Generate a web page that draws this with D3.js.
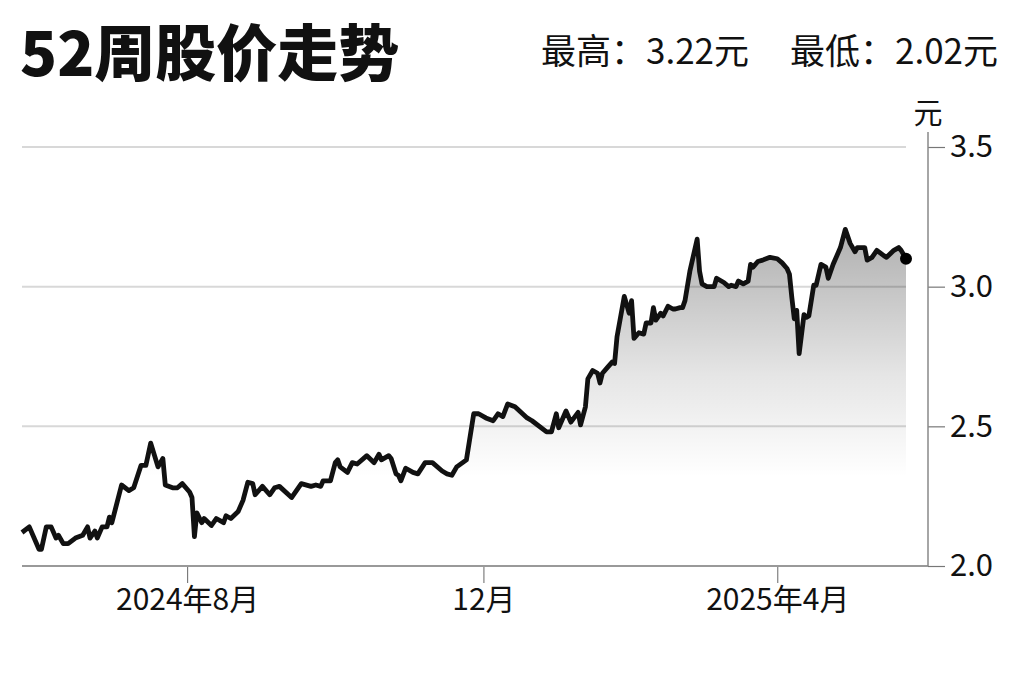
<!DOCTYPE html>
<html>
<head>
<meta charset="utf-8">
<script src="https://cdn.jsdelivr.net/npm/d3@7"></script>
<style>
  html, body { margin:0; padding:0; background:#fff; }
  svg { display:block; font-family:"Noto Sans CJK SC","Noto Sans",sans-serif; }
</style>
</head>
<body>
<div id="chart"></div>
<script>
// 52-week daily closes
var dates = [
"2024-05-25","2024-05-28","2024-06-01","2024-06-02","2024-06-04","2024-06-06","2024-06-08","2024-06-09","2024-06-11","2024-06-13",
"2024-06-16","2024-06-19","2024-06-21","2024-06-22","2024-06-24","2024-06-25","2024-06-27","2024-06-29","2024-06-30","2024-07-01",
"2024-07-05","2024-07-08","2024-07-10","2024-07-13","2024-07-15","2024-07-17","2024-07-20","2024-07-22","2024-07-23","2024-07-26",
"2024-07-28","2024-07-30","2024-08-02","2024-08-03","2024-08-04","2024-08-05","2024-08-07","2024-08-08","2024-08-11","2024-08-13",
"2024-08-16","2024-08-17","2024-08-19","2024-08-22","2024-08-24","2024-08-26","2024-08-28","2024-08-29","2024-09-01","2024-09-04",
"2024-09-06","2024-09-08","2024-09-13","2024-09-17","2024-09-21","2024-09-23","2024-09-25","2024-09-26","2024-09-29","2024-10-01",
"2024-10-02","2024-10-03","2024-10-06","2024-10-08","2024-10-10","2024-10-14","2024-10-17","2024-10-19","2024-10-20","2024-10-23",
"2024-10-24","2024-10-26","2024-10-27","2024-10-28","2024-10-30","2024-11-02","2024-11-04","2024-11-07","2024-11-10","2024-11-14",
"2024-11-16","2024-11-18","2024-11-20","2024-11-24","2024-11-27","2024-11-29","2024-12-02","2024-12-05","2024-12-07","2024-12-09",
"2024-12-11","2024-12-14","2024-12-19","2024-12-21","2024-12-27","2024-12-29","2024-12-31","2025-01-01","2025-01-04","2025-01-06",
"2025-01-09","2025-01-10","2025-01-12","2025-01-13","2025-01-15","2025-01-17","2025-01-18","2025-01-19","2025-01-21","2025-01-23",
"2025-01-24","2025-01-25","2025-01-28","2025-01-30","2025-01-31","2025-02-01","2025-02-03","2025-02-05","2025-02-06","2025-02-08",
"2025-02-09","2025-02-10","2025-02-12","2025-02-13","2025-02-15","2025-02-17","2025-02-18","2025-02-20","2025-02-21","2025-02-22",
"2025-02-24","2025-02-27","2025-02-28","2025-03-01","2025-03-03","2025-03-06","2025-03-07","2025-03-10","2025-03-12","2025-03-13",
"2025-03-15","2025-03-16","2025-03-18","2025-03-20","2025-03-21","2025-03-22","2025-03-24","2025-03-26","2025-03-29","2025-04-01",
"2025-04-03","2025-04-05","2025-04-06","2025-04-07","2025-04-08","2025-04-09","2025-04-10","2025-04-12","2025-04-13","2025-04-14",
"2025-04-16","2025-04-17","2025-04-19","2025-04-21","2025-04-22","2025-04-24","2025-04-27","2025-04-29","2025-05-01","2025-05-03",
"2025-05-04","2025-05-07","2025-05-08","2025-05-10","2025-05-12","2025-05-15","2025-05-16","2025-05-19","2025-05-21","2025-05-22",
"2025-05-24"];

var prices = [
2.12,2.14,2.06,2.06,2.14,2.14,2.10,2.11,2.08,2.08,
2.10,2.11,2.14,2.10,2.125,2.10,2.14,2.14,2.175,2.155,
2.29,2.27,2.28,2.36,2.36,2.44,2.355,2.385,2.29,2.28,
2.28,2.295,2.265,2.245,2.105,2.19,2.155,2.17,2.145,2.17,
2.155,2.18,2.17,2.195,2.235,2.30,2.295,2.255,2.285,2.255,
2.28,2.285,2.245,2.295,2.285,2.29,2.285,2.305,2.305,2.37,
2.38,2.355,2.335,2.37,2.365,2.395,2.37,2.40,2.38,2.395,
2.385,2.33,2.325,2.305,2.35,2.335,2.33,2.37,2.37,2.34,
2.33,2.325,2.355,2.38,2.545,2.545,2.53,2.52,2.545,2.535,
2.58,2.57,2.53,2.52,2.48,2.48,2.545,2.495,2.555,2.515,
2.55,2.505,2.57,2.67,2.70,2.69,2.655,2.69,2.71,2.73,
2.725,2.82,2.965,2.905,2.95,2.815,2.835,2.83,2.87,2.87,
2.925,2.88,2.905,2.895,2.93,2.92,2.92,2.925,2.925,2.95,
3.055,3.17,3.055,3.01,3.00,3.00,3.03,3.015,3.00,3.005,
3.00,3.02,3.01,3.02,3.08,3.07,3.09,3.095,3.105,3.10,
3.085,3.065,3.045,2.96,2.885,2.915,2.76,2.90,2.89,2.895,
3.005,3.005,3.08,3.07,3.03,3.08,3.14,3.205,3.155,3.125,
3.14,3.14,3.095,3.105,3.13,3.11,3.105,3.13,3.14,3.13,
3.10];

var yTicks = [2.0, 2.5, 3.0, 3.5];
var xTickDates = ["2024-08-01","2024-12-01","2025-04-01"];
var xTickLabels = ["2024年8月","12月","2025年4月"];
var title = "52周股价走势";
var summaryParts = ["最高：3.22元", "最低：2.02元"];
var unit = "元";

var W = 1024, H = 682;
var plotL = 22, plotR = 906, axisX = 928;
var plotT = 147, plotB = 566;

var parse = d3.timeParse("%Y-%m-%d");
var data = dates.map(function(d, i){ return {date: parse(d), value: prices[i]}; });

var x = d3.scaleTime()
  .domain([parse("2024-05-25"), parse("2025-05-24")])
  .range([plotL, plotR]);
var y = d3.scaleLinear()
  .domain([2.0, 3.5])
  .range([plotB, plotT]);

var svg = d3.select("#chart").append("svg")
  .attr("width", W).attr("height", H);

// gradient under the line
var grad = svg.append("defs").append("linearGradient")
  .attr("id", "fillGrad")
  .attr("gradientUnits", "userSpaceOnUse")
  .attr("x1", 0).attr("x2", 0)
  .attr("y1", y(3.22)).attr("y2", y(2.32));
grad.append("stop").attr("offset", 0).attr("stop-color", "#000").attr("stop-opacity", 0.32);
grad.append("stop").attr("offset", 0.6).attr("stop-color", "#000").attr("stop-opacity", 0.1);
grad.append("stop").attr("offset", 1).attr("stop-color", "#000").attr("stop-opacity", 0);

// gridlines
svg.append("g").selectAll("line")
  .data(yTicks.filter(function(t){ return t > 2.0; }))
  .enter().append("line")
  .attr("x1", plotL).attr("x2", plotR)
  .attr("y1", function(d){ return y(d); })
  .attr("y2", function(d){ return y(d); })
  .attr("stroke", "#d8d8d8").attr("stroke-width", 2);

// area + line
var area = d3.area()
  .x(function(d){ return x(d.date); })
  .y0(plotB)
  .y1(function(d){ return y(d.value); });
svg.append("path").datum(data)
  .attr("d", area)
  .attr("fill", "url(#fillGrad)");

var line = d3.line()
  .x(function(d){ return x(d.date); })
  .y(function(d){ return y(d.value); });
svg.append("path").datum(data)
  .attr("d", line)
  .attr("fill", "none")
  .attr("stroke", "#111")
  .attr("stroke-width", 4.8)
  .attr("stroke-linejoin", "round");

var last = data[data.length - 1];
svg.append("circle")
  .attr("cx", x(last.date)).attr("cy", y(last.value))
  .attr("r", 6).attr("fill", "#000");

// x axis
var xAxis = d3.axisBottom(x)
  .tickValues(xTickDates.map(parse))
  .tickSize(17)
  .tickPadding(6)
  .tickFormat(function(d, i){ return xTickLabels[i]; });
var gx = svg.append("g")
  .attr("transform", "translate(0," + plotB + ")")
  .call(xAxis);
gx.select(".domain").remove();
gx.selectAll(".tick line").attr("stroke", "#666").attr("stroke-width", 1);
gx.selectAll(".tick text")
  .attr("fill", "#111")
  .style("font-size", "30px")
  .style("font-family", "'Noto Sans CJK SC'");
svg.append("line")
  .attr("x1", plotL).attr("x2", axisX)
  .attr("y1", plotB).attr("y2", plotB)
  .attr("stroke", "#999").attr("stroke-width", 2);

// y axis on the right
var yAxis = d3.axisRight(y)
  .tickValues(yTicks)
  .tickSize(17)
  .tickPadding(5)
  .tickFormat(d3.format(".1f"));
var gy = svg.append("g")
  .attr("transform", "translate(" + axisX + ",0)")
  .call(yAxis);
gy.select(".domain").remove();
gy.selectAll(".tick line").attr("stroke", "#777").attr("stroke-width", 1.2);
gy.selectAll(".tick text")
  .attr("fill", "#111")
  .style("font-size", "31px")
  .style("font-family", "'Noto Sans CJK SC'");
svg.append("line")
  .attr("x1", axisX).attr("x2", axisX)
  .attr("y1", 132).attr("y2", plotB)
  .attr("stroke", "#888").attr("stroke-width", 1.5);

svg.append("text")
  .attr("x", axisX).attr("y", 124)
  .attr("text-anchor", "middle")
  .style("font-size", "29px")
  .attr("fill", "#111")
  .text(unit);

// headings
svg.append("text")
  .attr("x", 20).attr("y", 76)
  .style("font-size", "61px")
  .style("font-weight", 900)
  .attr("fill", "#111")
  .text(title);
svg.selectAll(".summary")
  .data(summaryParts)
  .enter().append("text")
  .attr("class", "summary")
  .attr("x", function(d, i){ return i === 0 ? 749 : 998; })
  .attr("y", 64)
  .attr("text-anchor", "end")
  .style("font-size", "35px")
  .attr("fill", "#111")
  .text(function(d){ return d; });
</script>
</body>
</html>
